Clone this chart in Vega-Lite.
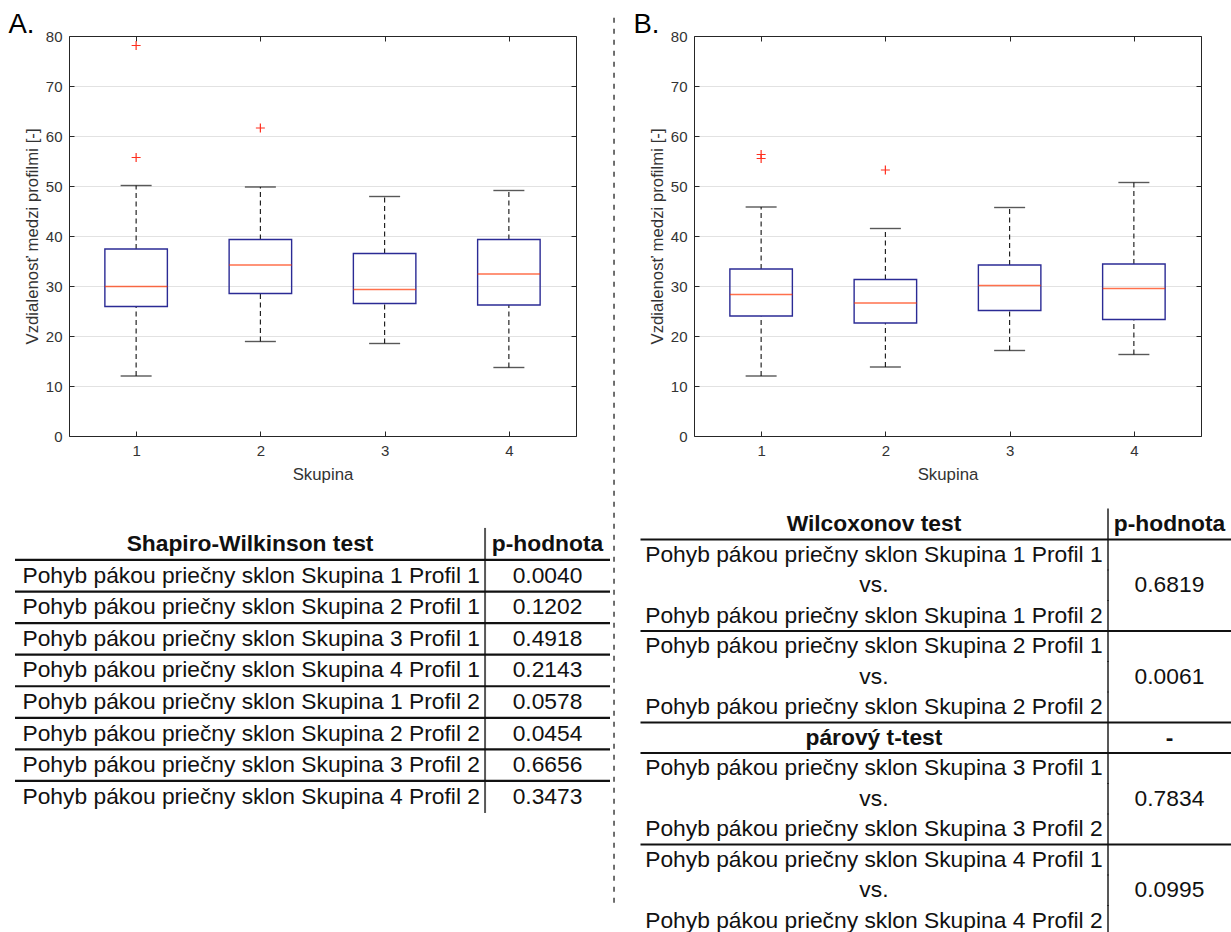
{
  "$schema": "https://vega.github.io/schema/vega-lite/v6.json",
  "width": 1231,
  "height": 932,
  "autosize": {"type": "none"},
  "padding": 0,
  "background": "white",
  "config": {
    "font": "Liberation Sans",
    "view": {"stroke": null},
    "axis": {
      "domainColor": "#262626",
      "domainWidth": 1,
      "tickColor": "#262626",
      "tickSize": -5,
      "tickWidth": 1,
      "labelFont": "Liberation Sans",
      "labelFontSize": 15,
      "labelColor": "#333333",
      "labelOverlap": false,
      "labelFlush": false,
      "titleFont": "Liberation Sans",
      "titleFontSize": 16.8,
      "titleFontWeight": "normal",
      "titleColor": "#333333",
      "gridColor": "#e2e2e2",
      "gridWidth": 1
    }
  },
  "datasets": {
    "boxes_a": [
      {"skupina": 1, "min": 12.0, "q1": 25.9, "median": 29.9, "q3": 37.4, "max": 50.1},
      {"skupina": 2, "min": 18.9, "q1": 28.5, "median": 34.2, "q3": 39.3, "max": 49.8},
      {"skupina": 3, "min": 18.5, "q1": 26.5, "median": 29.3, "q3": 36.5, "max": 47.9},
      {"skupina": 4, "min": 13.7, "q1": 26.2, "median": 32.4, "q3": 39.3, "max": 49.1}
    ],
    "outliers_a": [
      {"skupina": 1, "v": 78.1},
      {"skupina": 1, "v": 55.7},
      {"skupina": 2, "v": 61.6}
    ],
    "boxes_b": [
      {"skupina": 1, "min": 12.0, "q1": 24.0, "median": 28.3, "q3": 33.4, "max": 45.8},
      {"skupina": 2, "min": 13.8, "q1": 22.6, "median": 26.6, "q3": 31.3, "max": 41.5},
      {"skupina": 3, "min": 17.1, "q1": 25.1, "median": 30.1, "q3": 34.2, "max": 45.7},
      {"skupina": 4, "min": 16.3, "q1": 23.3, "median": 29.5, "q3": 34.4, "max": 50.7}
    ],
    "outliers_b": [
      {"skupina": 1, "v": 56.3},
      {"skupina": 1, "v": 55.5},
      {"skupina": 2, "v": 53.2}
    ],
    "shapiro": [
      {"line": 0, "kind": "header", "test": "Shapiro-Wilkinson test", "p": "p-hodnota"},
      {"line": 1, "kind": "row", "test": "Pohyb pákou priečny sklon Skupina 1 Profil 1", "p": "0.0040"},
      {"line": 2, "kind": "row", "test": "Pohyb pákou priečny sklon Skupina 2 Profil 1", "p": "0.1202"},
      {"line": 3, "kind": "row", "test": "Pohyb pákou priečny sklon Skupina 3 Profil 1", "p": "0.4918"},
      {"line": 4, "kind": "row", "test": "Pohyb pákou priečny sklon Skupina 4 Profil 1", "p": "0.2143"},
      {"line": 5, "kind": "row", "test": "Pohyb pákou priečny sklon Skupina 1 Profil 2", "p": "0.0578"},
      {"line": 6, "kind": "row", "test": "Pohyb pákou priečny sklon Skupina 2 Profil 2", "p": "0.0454"},
      {"line": 7, "kind": "row", "test": "Pohyb pákou priečny sklon Skupina 3 Profil 2", "p": "0.6656"},
      {"line": 8, "kind": "row", "test": "Pohyb pákou priečny sklon Skupina 4 Profil 2", "p": "0.3473"}
    ],
    "wilcoxon": [
      {"line": 0, "block": 0, "kind": "header", "test": "Wilcoxonov test", "p": "p-hodnota"},
      {"line": 1, "block": 1, "kind": "row", "test": "Pohyb pákou priečny sklon Skupina 1 Profil 1"},
      {"line": 2, "block": 1, "kind": "row", "test": "vs.", "p": "0.6819"},
      {"line": 3, "block": 1, "kind": "row", "test": "Pohyb pákou priečny sklon Skupina 1 Profil 2"},
      {"line": 4, "block": 2, "kind": "row", "test": "Pohyb pákou priečny sklon Skupina 2 Profil 1"},
      {"line": 5, "block": 2, "kind": "row", "test": "vs.", "p": "0.0061"},
      {"line": 6, "block": 2, "kind": "row", "test": "Pohyb pákou priečny sklon Skupina 2 Profil 2"},
      {"line": 7, "block": 3, "kind": "header", "test": "párový t-test", "p": "-"},
      {"line": 8, "block": 4, "kind": "row", "test": "Pohyb pákou priečny sklon Skupina 3 Profil 1"},
      {"line": 9, "block": 4, "kind": "row", "test": "vs.", "p": "0.7834"},
      {"line": 10, "block": 4, "kind": "row", "test": "Pohyb pákou priečny sklon Skupina 3 Profil 2"},
      {"line": 11, "block": 5, "kind": "row", "test": "Pohyb pákou priečny sklon Skupina 4 Profil 1"},
      {"line": 12, "block": 5, "kind": "row", "test": "vs.", "p": "0.0995"},
      {"line": 13, "block": 5, "kind": "row", "test": "Pohyb pákou priečny sklon Skupina 4 Profil 2"}
    ]
  },
  "layer": [
    {
      "data": {"name": "boxes_a"},
      "layer": [
        {
          "mark": {"type": "rule", "strokeDash": [5, 3.5], "color": "#111111", "strokeWidth": 1.1},
          "encoding": {
            "x": {"field": "skupina", "type": "quantitative",
              "scale": {"domain": [0.5, 4.5], "range": [69, 576], "nice": false, "zero": false},
              "axis": {"orient": "bottom", "offset": -496, "values": [1, 2, 3, 4], "format": "d", "title": "Skupina", "grid": false, "labelPadding": 12, "titlePadding": 8}},
            "y": {"field": "min", "type": "quantitative",
              "scale": {"domain": [0, 80], "range": [436, 36], "nice": false, "zero": false},
              "axis": {"orient": "left", "offset": -69, "values": [0, 10, 20, 30, 40, 50, 60, 70, 80], "format": "d", "title": "Vzdialenosť medzi profilmi [-]", "grid": true, "labelPadding": 12, "titlePadding": 4}},
            "y2": {"field": "q1"}
          }
        },
        {
          "mark": {"type": "rule", "strokeDash": [5, 3.5], "color": "#111111", "strokeWidth": 1.1},
          "encoding": {
            "x": {"field": "skupina", "type": "quantitative",
              "axis": {"orient": "top", "offset": -36, "values": [1, 2, 3, 4], "labels": false, "grid": false,
                "title": "A.", "titleX": 8, "titleY": -4, "titleAlign": "left", "titleAnchor": "start", "titleBaseline": "alphabetic", "titleFontSize": 27.5, "titleColor": "#000000"}},
            "y": {"field": "q3", "type": "quantitative",
              "axis": {"orient": "right", "offset": -655, "values": [0, 10, 20, 30, 40, 50, 60, 70, 80], "labels": false, "grid": false, "title": null}},
            "y2": {"field": "max"}
          }
        },
        {
          "mark": {"type": "tick", "orient": "horizontal", "size": 31, "thickness": 1.4, "color": "#111111"},
          "encoding": {
            "x": {"field": "skupina", "type": "quantitative", "axis": null},
            "y": {"field": "min", "type": "quantitative", "axis": null}
          }
        },
        {
          "mark": {"type": "tick", "orient": "horizontal", "size": 31, "thickness": 1.4, "color": "#111111"},
          "encoding": {
            "x": {"field": "skupina", "type": "quantitative", "axis": null},
            "y": {"field": "max", "type": "quantitative", "axis": null}
          }
        },
        {
          "mark": {"type": "bar", "size": 62.5, "fillOpacity": 0, "stroke": "#2b2b95", "strokeWidth": 1.4},
          "encoding": {
            "x": {"field": "skupina", "type": "quantitative", "axis": null},
            "y": {"field": "q1", "type": "quantitative", "axis": null},
            "y2": {"field": "q3"}
          }
        },
        {
          "mark": {"type": "tick", "orient": "horizontal", "size": 62.5, "thickness": 1.6, "color": "#ff3300"},
          "encoding": {
            "x": {"field": "skupina", "type": "quantitative", "axis": null},
            "y": {"field": "median", "type": "quantitative", "axis": null}
          }
        },
        {
          "data": {"name": "outliers_a"},
          "mark": {"type": "point", "shape": "M-1,0L1,0M0,-1L0,1", "size": 81, "filled": false, "stroke": "#ff2f1f", "strokeWidth": 1.2, "opacity": 1},
          "encoding": {
            "x": {"field": "skupina", "type": "quantitative", "axis": null},
            "y": {"field": "v", "type": "quantitative", "axis": null}
          }
        }
      ],
      "resolve": {"axis": {"x": "independent", "y": "independent"}}
    },
    {
      "data": {"name": "boxes_b"},
      "layer": [
        {
          "mark": {"type": "rule", "strokeDash": [5, 3.5], "color": "#111111", "strokeWidth": 1.1},
          "encoding": {
            "x": {"field": "skupina", "type": "quantitative",
              "scale": {"domain": [0.5, 4.5], "range": [694, 1201], "nice": false, "zero": false},
              "axis": {"orient": "bottom", "offset": -496, "values": [1, 2, 3, 4], "format": "d", "title": "Skupina", "grid": false, "labelPadding": 12, "titlePadding": 8}},
            "y": {"field": "min", "type": "quantitative",
              "scale": {"domain": [0, 80], "range": [436, 36], "nice": false, "zero": false},
              "axis": {"orient": "left", "offset": -694, "values": [0, 10, 20, 30, 40, 50, 60, 70, 80], "format": "d", "title": "Vzdialenosť medzi profilmi [-]", "grid": true, "labelPadding": 12, "titlePadding": 4}},
            "y2": {"field": "q1"}
          }
        },
        {
          "mark": {"type": "rule", "strokeDash": [5, 3.5], "color": "#111111", "strokeWidth": 1.1},
          "encoding": {
            "x": {"field": "skupina", "type": "quantitative",
              "axis": {"orient": "top", "offset": -36, "values": [1, 2, 3, 4], "labels": false, "grid": false,
                "title": "B.", "titleX": 633, "titleY": -4, "titleAlign": "left", "titleAnchor": "start", "titleBaseline": "alphabetic", "titleFontSize": 27.5, "titleColor": "#000000"}},
            "y": {"field": "q3", "type": "quantitative",
              "axis": {"orient": "right", "offset": -30, "values": [0, 10, 20, 30, 40, 50, 60, 70, 80], "labels": false, "grid": false, "title": null}},
            "y2": {"field": "max"}
          }
        },
        {
          "mark": {"type": "tick", "orient": "horizontal", "size": 31, "thickness": 1.4, "color": "#111111"},
          "encoding": {
            "x": {"field": "skupina", "type": "quantitative", "axis": null},
            "y": {"field": "min", "type": "quantitative", "axis": null}
          }
        },
        {
          "mark": {"type": "tick", "orient": "horizontal", "size": 31, "thickness": 1.4, "color": "#111111"},
          "encoding": {
            "x": {"field": "skupina", "type": "quantitative", "axis": null},
            "y": {"field": "max", "type": "quantitative", "axis": null}
          }
        },
        {
          "mark": {"type": "bar", "size": 62.5, "fillOpacity": 0, "stroke": "#2b2b95", "strokeWidth": 1.4},
          "encoding": {
            "x": {"field": "skupina", "type": "quantitative", "axis": null},
            "y": {"field": "q1", "type": "quantitative", "axis": null},
            "y2": {"field": "q3"}
          }
        },
        {
          "mark": {"type": "tick", "orient": "horizontal", "size": 62.5, "thickness": 1.6, "color": "#ff3300"},
          "encoding": {
            "x": {"field": "skupina", "type": "quantitative", "axis": null},
            "y": {"field": "median", "type": "quantitative", "axis": null}
          }
        },
        {
          "data": {"name": "outliers_b"},
          "mark": {"type": "point", "shape": "M-1,0L1,0M0,-1L0,1", "size": 81, "filled": false, "stroke": "#ff2f1f", "strokeWidth": 1.2, "opacity": 1},
          "encoding": {
            "x": {"field": "skupina", "type": "quantitative", "axis": null},
            "y": {"field": "v", "type": "quantitative", "axis": null}
          }
        }
      ],
      "resolve": {"axis": {"x": "independent", "y": "independent"}}
    },
    {
      "data": {"name": "shapiro"},
      "layer": [
        {
          "transform": [{"filter": "datum.kind === 'header'"}],
          "mark": {"type": "text", "fontWeight": "bold", "fontSize": 22.8, "baseline": "middle", "align": "center", "color": "#111111"},
          "encoding": {
            "x": {"datum": 0.395, "type": "quantitative",
              "scale": {"domain": [0, 1], "range": [15, 610], "nice": false, "zero": false},
              "axis": {"orient": "top", "offset": 0, "domain": false, "ticks": false, "labels": false, "grid": false,
                "title": "C.", "titleX": 7, "titleY": 502, "titleAlign": "left", "titleAnchor": "start", "titleBaseline": "alphabetic", "titleFontSize": 27.5, "titleColor": "#000000"}},
            "y": {"field": "line", "type": "ordinal", "scale": {"range": [528.4, 812.5], "paddingInner": 0, "paddingOuter": 0}, "axis": null},
            "text": {"field": "test"}
          }
        },
        {
          "transform": [{"filter": "datum.kind === 'header'"}],
          "mark": {"type": "text", "fontWeight": "bold", "fontSize": 22.8, "baseline": "middle", "align": "center", "color": "#111111"},
          "encoding": {
            "x": {"datum": 0.895, "type": "quantitative", "axis": null},
            "y": {"field": "line", "type": "ordinal", "axis": null},
            "text": {"field": "p"}
          }
        },
        {
          "transform": [{"filter": "datum.kind === 'row'"}],
          "mark": {"type": "text", "fontSize": 22.8, "baseline": "middle", "align": "center", "color": "#111111"},
          "encoding": {
            "x": {"datum": 0.397, "type": "quantitative", "axis": null},
            "y": {"field": "line", "type": "ordinal", "axis": null},
            "text": {"field": "test"}
          }
        },
        {
          "transform": [{"filter": "datum.kind === 'row'"}],
          "mark": {"type": "text", "fontSize": 22.8, "baseline": "middle", "align": "center", "color": "#111111"},
          "encoding": {
            "x": {"datum": 0.895, "type": "quantitative", "axis": null},
            "y": {"field": "line", "type": "ordinal", "axis": null},
            "text": {"field": "p"}
          }
        },
        {
          "transform": [{"filter": "datum.line < 8"}],
          "mark": {"type": "rule", "color": "#111111", "strokeWidth": 2.2},
          "encoding": {
            "x": {"datum": 0, "type": "quantitative", "axis": null},
            "x2": {"datum": 1},
            "y": {"field": "line", "type": "ordinal", "bandPosition": 1, "axis": null}
          }
        },
        {
          "mark": {"type": "tick", "orient": "vertical", "size": 32.5, "thickness": 2, "color": "#111111"},
          "encoding": {
            "x": {"datum": 0.79, "type": "quantitative", "axis": null},
            "y": {"field": "line", "type": "ordinal", "axis": null}
          }
        }
      ]
    },
    {
      "data": {"name": "wilcoxon"},
      "layer": [
        {
          "transform": [{"filter": "datum.kind === 'header'"}],
          "mark": {"type": "text", "fontWeight": "bold", "fontSize": 22.8, "baseline": "middle", "align": "center", "color": "#111111"},
          "encoding": {
            "x": {"datum": 0.3953, "type": "quantitative",
              "scale": {"domain": [0, 1], "range": [640.5, 1231], "nice": false, "zero": false},
              "axis": {"orient": "top", "offset": 0, "domain": false, "ticks": false, "labels": false, "grid": false,
                "title": "D.", "titleX": 632, "titleY": 502, "titleAlign": "left", "titleAnchor": "start", "titleBaseline": "alphabetic", "titleFontSize": 27.5, "titleColor": "#000000"}},
            "y": {"field": "line", "type": "ordinal", "scale": {"range": [509, 936], "paddingInner": 0, "paddingOuter": 0}, "axis": null},
            "text": {"field": "test"}
          }
        },
        {
          "transform": [{"filter": "datum.kind === 'header'"}],
          "mark": {"type": "text", "fontWeight": "bold", "fontSize": 22.8, "baseline": "middle", "align": "center", "color": "#111111"},
          "encoding": {
            "x": {"datum": 0.8958, "type": "quantitative", "axis": null},
            "y": {"field": "line", "type": "ordinal", "axis": null},
            "text": {"field": "p"}
          }
        },
        {
          "transform": [{"filter": "datum.kind === 'row'"}],
          "mark": {"type": "text", "fontSize": 22.8, "baseline": "middle", "align": "center", "color": "#111111"},
          "encoding": {
            "x": {"datum": 0.3953, "type": "quantitative", "axis": null},
            "y": {"field": "line", "type": "ordinal", "axis": null},
            "text": {"field": "test"}
          }
        },
        {
          "transform": [{"filter": "datum.kind === 'row' && isValid(datum.p)"}],
          "mark": {"type": "text", "fontSize": 22.8, "baseline": "middle", "align": "center", "color": "#111111"},
          "encoding": {
            "x": {"datum": 0.8958, "type": "quantitative", "axis": null},
            "y": {"field": "line", "type": "ordinal", "axis": null},
            "text": {"field": "p"}
          }
        },
        {
          "transform": [
            {"aggregate": [{"op": "max", "field": "line", "as": "line"}], "groupby": ["block"]},
            {"filter": "datum.line < 13"}
          ],
          "mark": {"type": "rule", "color": "#111111", "strokeWidth": 2.2},
          "encoding": {
            "x": {"datum": 0, "type": "quantitative", "axis": null},
            "x2": {"datum": 1},
            "y": {"field": "line", "type": "ordinal", "bandPosition": 1, "axis": null}
          }
        },
        {
          "mark": {"type": "tick", "orient": "vertical", "size": 31.5, "thickness": 2, "color": "#111111"},
          "encoding": {
            "x": {"datum": 0.7917, "type": "quantitative", "axis": null},
            "y": {"field": "line", "type": "ordinal", "axis": null}
          }
        }
      ]
    },
    {
      "data": {"values": [{"divider": "panels"}]},
      "mark": {"type": "rule", "strokeDash": [5, 6], "color": "#333333", "strokeWidth": 1.4},
      "encoding": {
        "x": {"datum": 0.4988, "type": "quantitative", "scale": {"domain": [0, 1], "range": [0, 1231], "nice": false, "zero": false}, "axis": null},
        "y": {"datum": 0.019, "type": "quantitative", "scale": {"domain": [0, 1], "range": [0, 932], "nice": false, "zero": false}, "axis": null},
        "y2": {"datum": 0.971}
      }
    }
  ],
  "resolve": {
    "scale": {"x": "independent", "y": "independent"},
    "axis": {"x": "independent", "y": "independent"}
  }
}
